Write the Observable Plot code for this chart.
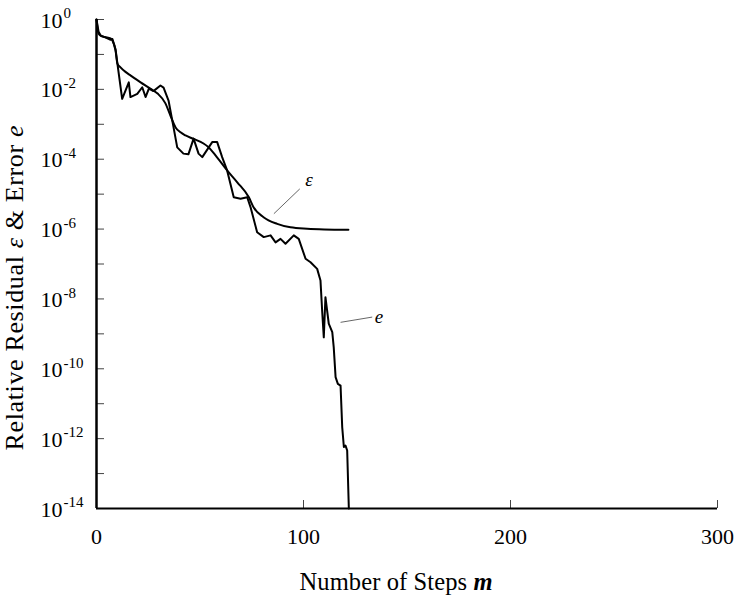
<!DOCTYPE html>
<html><head><meta charset="utf-8">
<script src="https://cdn.jsdelivr.net/npm/d3@7"></script>
<script src="https://cdn.jsdelivr.net/npm/@observablehq/plot@0.6"></script>
<style>body{margin:0;background:#fff} #chart{width:739px;height:601px}</style>
</head><body><div id="chart"></div>
<script>
// Relative residual ε (smooth curve): step m and log10 value
const residualSteps = [0,1,2,4,6.8,7.7,9.2,10.1,11.6,14,16.4,21.3,26,29.5,33.3,35.7,38.2,40.6,43,47,51.7,54,57.5,63.1,68,73.6,75.8,80.7,87.3,93.7,101.8,110,121.7];
const residualExp = [0,-0.4,-0.46,-0.5,-0.54,-0.6,-0.89,-1.26,-1.37,-1.5,-1.6,-1.8,-1.98,-2.12,-2.4,-2.75,-3.09,-3.23,-3.32,-3.42,-3.55,-3.65,-3.89,-4.32,-4.66,-5.09,-5.37,-5.66,-5.85,-5.95,-5.99,-6.01,-6.02];
// Error e (jagged curve)
const errorSteps = [0,1,2,4.5,6.8,7.7,9.2,10.1,12.4,15.6,16.4,19.7,22.1,23.7,25.3,27.5,30.9,32.4,34.8,37.2,39,42,44.4,46.9,49.3,51.1,55.9,58.3,60.7,63.1,66.3,69.6,72.8,74.4,77.6,80.8,84.1,86.5,88.9,91.3,95.3,97.7,101,103.4,106.6,108.2,109,109.8,110.6,112.2,113.9,114.6,115.5,116.6,117.9,118.7,119.5,120.3,121.1,121.9];
const errorExp = [0,-0.35,-0.46,-0.52,-0.58,-0.56,-0.85,-1.26,-2.27,-1.80,-2.22,-2.13,-1.94,-2.22,-1.98,-2.05,-1.89,-1.95,-2.32,-3.08,-3.66,-3.84,-3.86,-3.41,-3.84,-3.94,-3.51,-3.51,-3.94,-4.32,-5.09,-5.13,-5.09,-5.37,-6.09,-6.23,-6.18,-6.38,-6.28,-6.42,-6.18,-6.28,-6.85,-6.95,-7.14,-7.47,-8.33,-9.10,-7.95,-8.71,-8.95,-9.38,-10.24,-10.43,-10.48,-11.67,-12.24,-12.20,-12.34,-14];

// Axis ticks
const yLabelExponents = [0,-2,-4,-6,-8,-10,-12,-14];
const yTickExponents = [0,-1,-2,-3,-4,-5,-6,-7,-8,-9,-10,-11,-12,-13,-14];
const xTicks = [0,100,200,300];

// Curve annotations (label text, label position, leader line ends)
const annLabels = ["ε","e"];
const annLabelM = [102.6,136.4];
const annLabelExp = [-4.59,-8.52];
const annLineM1 = [85.7,117.9];
const annLineExp1 = [-5.56,-8.67];
const annLineM2 = [98.2,133.2];
const annLineExp2 = [-4.85,-8.52];

const residual = residualSteps.map((m,i)=>({m, v: 10 ** residualExp[i]}));
const error = errorSteps.map((m,i)=>({m, v: 10 ** errorExp[i]}));
const ann = annLabels.map((t,i)=>({t, m: annLabelM[i], v: 10 ** annLabelExp[i],
  m1: annLineM1[i], v1: 10 ** annLineExp1[i], m2: annLineM2[i], v2: 10 ** annLineExp2[i]}));

const serif = "Liberation Serif";

const plot = Plot.plot({
  width: 739, height: 601,
  marginLeft: 96, marginRight: 22, marginTop: 19, marginBottom: 93,
  style: {fontFamily: serif, background: "white", color: "black", overflow: "visible"},
  x: {domain: [0, 300]},
  y: {type: "log", domain: [1e-14, 1]},
  marks: [
    Plot.axisY({ticks: yTickExponents.map(e => 10 ** e), tickSize: -8, tickFormat: () => "", label: null, stroke: "#444"}),
    Plot.axisX({ticks: xTicks, tickSize: -8, tickFormat: () => "", label: null, stroke: "#444"}),
    Plot.axisX({ticks: xTicks, tickSize: 0, tickPadding: 20, fontSize: 22, fontFamily: serif, label: null, fill: "black"}),
    Plot.text(yLabelExponents, {y: e => 10 ** e, text: () => "10", frameAnchor: "left", textAnchor: "end", dx: -34, dy: 1, fontSize: 22, fontFamily: serif, fill: "black"}),
    Plot.text(yLabelExponents, {y: e => 10 ** e, text: e => e === 0 ? "0" : "-" + (-e), frameAnchor: "left", textAnchor: "start", dx: -33, dy: -6, fontSize: 15, fontFamily: serif, fill: "black"}),
    Plot.ruleX([0], {stroke: "black", strokeWidth: 2.5}),
    Plot.ruleY([1e-14], {stroke: "black", strokeWidth: 2}),
    Plot.line(residual, {x: "m", y: "v", curve: "monotone-x", stroke: "black", strokeWidth: 2}),
    Plot.line(error, {x: "m", y: "v", stroke: "black", strokeWidth: 2, strokeLinejoin: "round"}),
    Plot.link(ann, {x1: "m1", y1: "v1", x2: "m2", y2: "v2", stroke: "#555", strokeWidth: 0.9}),
    Plot.text(ann, {x: "m", y: "v", text: "t", fontStyle: "italic", fontSize: 19, fontFamily: serif, fill: "black"})
  ]
});

const svg = d3.select(plot);
// x-axis title
const xt = svg.append("text")
  .attr("x", 396).attr("y", 590)
  .attr("text-anchor", "middle")
  .style("font-family", serif).attr("font-size", 24.5).attr("fill", "black")
  .attr("textLength", 193).attr("lengthAdjust", "spacing");
xt.append("tspan").text("Number of Steps ");
xt.append("tspan").attr("font-style", "italic").attr("font-weight", "bold").text("m");

// y-axis title
const yt = svg.append("text")
  .attr("transform", "translate(23,288) rotate(-90)")
  .attr("text-anchor", "middle")
  .style("font-family", serif).attr("font-size", 26).attr("fill", "black")
  .attr("textLength", 325).attr("lengthAdjust", "spacing");
yt.append("tspan").text("Relative Residual ");
yt.append("tspan").attr("font-style", "italic").text("ε");
yt.append("tspan").text(" & Error ");
yt.append("tspan").attr("font-style", "italic").text("e");

document.getElementById("chart").appendChild(plot);
</script>
</body></html>
